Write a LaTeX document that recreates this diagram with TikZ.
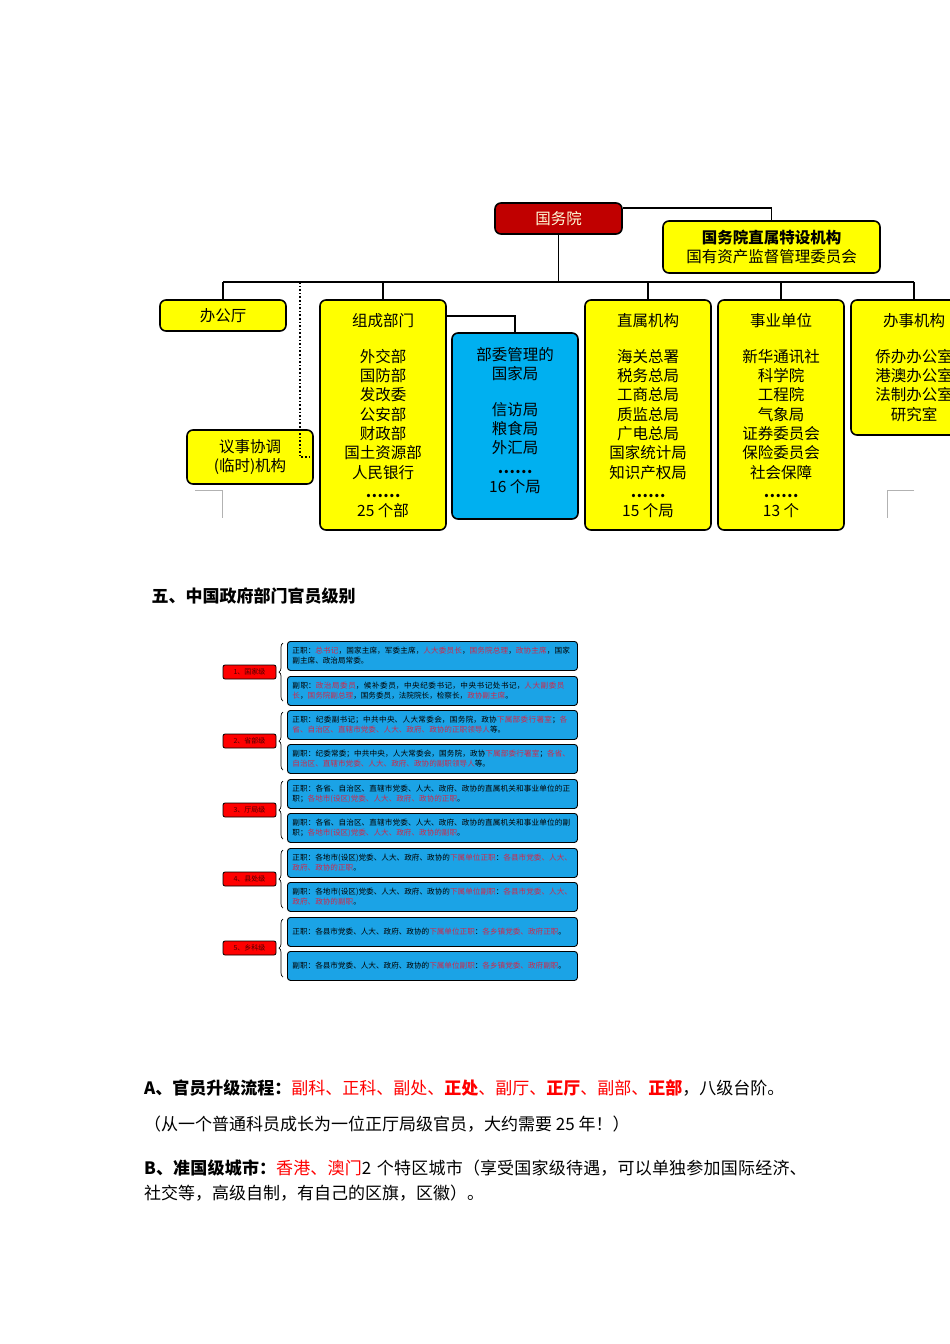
\documentclass[tikz,border=0pt]{standalone}
\usepackage{fontspec}
\setmainfont{Noto Sans CJK SC}
\XeTeXlinebreaklocale "zh"
\XeTeXlinebreakskip=0pt plus 1pt
\usetikzlibrary{decorations.pathreplacing}
\definecolor{ored}{HTML}{C00000}
\definecolor{oyel}{HTML}{FFFF00}
\definecolor{oblu}{HTML}{00B0F0}
\definecolor{tblu}{HTML}{1BA3E6}
\definecolor{tred}{HTML}{D0284A}
\newcommand\rd[1]{\textcolor{tred}{#1}}
\tikzset{
 obox/.style={draw=black,line width=1.6pt,rounded corners=6pt,inner sep=0pt},
 otxt/.style={font=\fontsize{15.5}{19.3}\selectfont,align=center,inner sep=0pt},
 conn/.style={line width=1.8pt},
 rbox/.style={draw=black,line width=0.8pt,fill=red,rounded corners=2pt,minimum width=53pt,minimum height=14pt,inner sep=0pt,font=\fontsize{7}{8}\selectfont\color{black!70!red}},
 tbox/.style={draw=black,line width=0.9pt,fill=tblu,rounded corners=3pt,minimum width=290pt,minimum height=29pt,text width=280pt,align=left,inner sep=3pt,anchor=north west,font=\fontsize{7.6}{10}\selectfont}
}
\begin{document}
\begin{tikzpicture}[x=1pt,y=-1pt]
\useasboundingbox[fill=white] (0,0) rectangle (950,1344);
% org chart
\node[obox,fill=ored,minimum width=127pt,minimum height=31pt,font=\fontsize{15.5}{18}\selectfont\color{white!85!yellow}] (gwy) at (558.5,218.5) {国务院};
\node[obox,fill=oyel,minimum width=217pt,minimum height=52pt,otxt] (tes) at (771.5,247) {\textbf{国务院直属特设机构}\\国有资产监督管理委员会};
\node[obox,fill=oyel,minimum width=126pt,minimum height=31pt,otxt] (bgt) at (223,315.5) {办公厅};
\node[obox,fill=oyel,minimum width=126pt,minimum height=54pt,otxt] (yis) at (250,457) {议事协调\\(临时)机构};
\node[obox,fill=oyel,minimum width=126pt,minimum height=230pt] (zc) at (383,415) {};
\node[obox,fill=oblu,minimum width=126pt,minimum height=186pt] (bw) at (515,426) {};
\node[obox,fill=oyel,minimum width=126pt,minimum height=230pt] (zs) at (648,415) {};
\node[obox,fill=oyel,minimum width=126pt,minimum height=230pt] (sy) at (781,415) {};
\node[obox,fill=oyel,minimum width=126pt,minimum height=135pt] (bs) at (914,367.5) {};
\coordinate (bus) at (558.5,282);
\draw[conn] (gwy.east|-0,208) -| (tes.north);
\draw[conn] (gwy.south) -- (bus);
\draw[conn] (bgt.north|-bus) -- (bs.north|-bus);
\draw[conn] (bgt.north|-bus) -- (bgt.north);
\draw[conn] (zc.north|-bus) -- (zc.north);
\draw[conn] (zs.north|-bus) -- (zs.north);
\draw[conn] (sy.north|-bus) -- (sy.north);
\draw[conn] (bs.north|-bus) -- (bs.north);
\draw[conn] (zc.east|-0,316) -| (bw.north);
\draw[line width=1.6pt,dotted] (300,282) -- (300,457) -- (yis.east);
\node[otxt] at (383,321) {组成部门};
\node[otxt,anchor=north] at (383,349) {外交部\\国防部\\发改委\\公安部\\财政部\\国土资源部\\人民银行\\\textbf{……}\\25 个部};
\node[otxt] at (515,364) {部委管理的\\国家局};
\node[otxt,anchor=north] at (515,402) {信访局\\粮食局\\外汇局\\\textbf{……}\\16 个局};
\node[otxt] at (648,321) {直属机构};
\node[otxt,anchor=north] at (648,349) {海关总署\\税务总局\\工商总局\\质监总局\\广电总局\\国家统计局\\知识产权局\\\textbf{……}\\15 个局};
\node[otxt] at (781,321) {事业单位};
\node[otxt,anchor=north] at (781,349) {新华通讯社\\科学院\\工程院\\气象局\\证券委员会\\保险委员会\\社会保障\\\textbf{……}\\13 个};
\node[otxt] at (914,321) {办事机构};
\node[otxt,anchor=north] at (914,349) {侨办办公室\\港澳办公室\\法制办公室\\研究室};
\draw[gray!60,line width=0.6pt] (195,490) -- (222,490) -- (222,518);
\draw[gray!60,line width=0.6pt] (914,490) -- (887,490) -- (887,518);
% heading
\node[anchor=west,font=\fontsize{17}{20}\selectfont\bfseries] (h5) at (148,596) {五、中国政府部门官员级别};
% rank table
\foreach \n/\lab/\y in {1/1、国家级/672,2/2、省部级/741,3/3、厅局级/810,4/4、县处级/879,5/5、乡科级/948}{
  \node[rbox] (r\n) at (249.5,\y) {\lab};
  \draw[decorate,decoration={brace,amplitude=4pt},line width=0.7pt] (283,\y+29) -- (283,\y-29);
}
\node[tbox] (t1a) at (287,641) {正职：\rd{总书记}，国家主席，军委主席，\rd{人大委员长}，\rd{国务院总理}，\rd{政协主席}，国家副主席、政治局常委。};
\node[tbox] (t1b) at (287,676) {副职：\rd{政治局委员}，候补委员，中央纪委书记，中央书记处书记，\rd{人大副委员长}，\rd{国务院副总理}，国务委员，法院院长，检察长，\rd{政协副主席}。};
\node[tbox] (t2a) at (287,710) {正职：纪委副书记；中共中央、人大常委会，国务院，政协\rd{下属部委行署室}；\rd{各省、自治区、直辖市党委、人大、政府、政协的正职领导人}等。};
\node[tbox] (t2b) at (287,744) {副职：纪委常委；中共中央，人大常委会，国务院，政协\rd{下属部委行署室}；\rd{各省、自治区、直辖市党委、人大、政府、政协的副职领导人}等。};
\node[tbox] (t3a) at (287,779) {正职：各省、自治区、直辖市党委、人大、政府、政协的直属机关和事业单位的正职；\rd{各地市(设区)党委、人大、政府、政协的正职}。};
\node[tbox] (t3b) at (287,813) {副职：各省、自治区、直辖市党委、人大、政府、政协的直属机关和事业单位的副职；\rd{各地市(设区)党委、人大、政府、政协的副职}。};
\node[tbox] (t4a) at (287,848) {正职：各地市(设区)党委、人大、政府、政协的\rd{下属单位正职}：\rd{各县市党委、人大、政府、政协的正职}。};
\node[tbox] (t4b) at (287,882) {副职：各地市(设区)党委、人大、政府、政协的\rd{下属单位副职}：\rd{各县市党委、人大、政府、政协的副职}。};
\node[tbox] (t5a) at (287,917) {正职：各县市党委、人大、政府、政协的\rd{下属单位正职}：\rd{各乡镇党委、政府正职}。};
\node[tbox] (t5b) at (287,951) {副职：各县市党委、人大、政府、政协的\rd{下属单位副职}：\rd{各乡镇党委、政府副职}。};
% bottom text
\tikzset{bt/.style={anchor=west,inner sep=0pt,font=\fontsize{17}{25}\selectfont}}
\node[bt] (la) at (144,1088) {\textbf{A、官员升级流程：}\textcolor{red}{副科、正科、副处、\textbf{正处}、副厅、\textbf{正厅}、副部、\textbf{正部}}，八级台阶。};
\node[bt] (lb) at (144,1124) {（从一个普通科员成长为一位正厅局级官员，大约需要 25 年！）};
\node[bt,anchor=north west,text width=670pt,align=left] (lc) at (144,1160) {\textbf{B、准国级城市：}\textcolor{red}{香港、澳门}2 个特区城市（享受国家级待遇，可以单独参加国际经济、社交等，高级自制，有自己的区旗，区徽）。};
\end{tikzpicture}
\end{document}
